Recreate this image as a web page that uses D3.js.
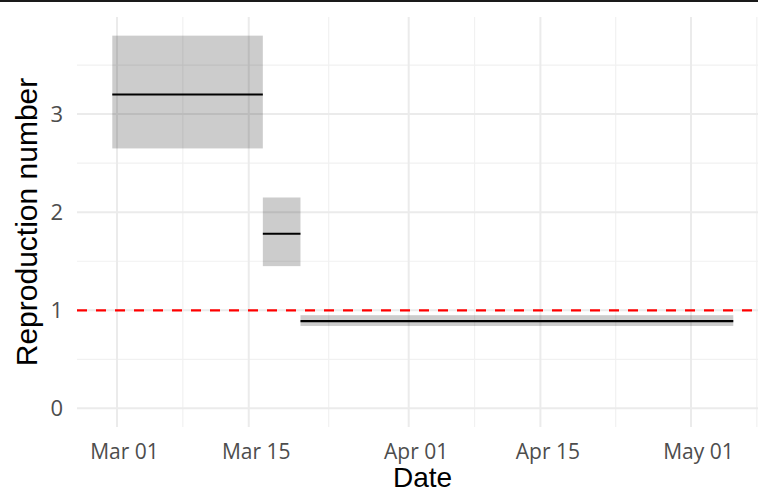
<!DOCTYPE html>
<html>
<head>
<meta charset="utf-8">
<script src="https://cdn.jsdelivr.net/npm/d3@7"></script>
<style>
  html, body { margin: 0; padding: 0; background: #fff; }
  svg { display: block; }
</style>
</head>
<body>
<div class="chart"></div>
<script>
// estimated reproduction number per period
const periodStart = ["2020-03-01", "2020-03-17", "2020-03-21"];
const periodEnd = ["2020-03-16", "2020-03-20", "2020-05-05"];
const rMean = [3.20, 1.78, 0.89];
const rLower = [2.65, 1.45, 0.84];
const rUpper = [3.80, 2.15, 0.95];
const threshold = 1;

const xTickDates = ["2020-03-01", "2020-03-15", "2020-04-01", "2020-04-15", "2020-05-01"];
const xTickLabels = ["Mar 01", "Mar 15", "Apr 01", "Apr 15", "May 01"];
const yTicks = [0, 1, 2, 3];

const width = 758;
const height = 494;
const margin = { top: 17, right: 0, bottom: 67, left: 77 };

const parse = d3.utcParse("%Y-%m-%d");
const halfDay = 12 * 3600 * 1000;

const periods = periodStart.map((s, i) => ({
    start: parse(s),
    end: parse(periodEnd[i]),
    mean: rMean[i],
    lower: rLower[i],
    upper: rUpper[i]
}));

const svg = d3.select(".chart")
    .append("svg")
    .attr("width", width)
    .attr("height", height);

const x = d3.scaleUtc()
    .domain([new Date(Date.UTC(2020, 1, 25, 18)), new Date(Date.UTC(2020, 4, 8, 3))])
    .range([margin.left, width - margin.right]);

const y = d3.scaleLinear()
    .domain([-0.19, 3.99])
    .range([height - margin.bottom, margin.top]);

// grid: minor lines sit midway between the major ones
const majorX = xTickDates.map(parse);
const nextMajor = parse("2020-05-15");
const minorX = majorX.map((d, i) => {
    const n = i < majorX.length - 1 ? majorX[i + 1] : nextMajor;
    return new Date((+d + +n) / 2);
});
const minorY = yTicks.map(v => v + 0.5);

const grid = svg.append("g").attr("class", "grid");

grid.selectAll(".minor-y")
    .data(minorY)
    .enter()
    .append("line")
    .attr("x1", x.range()[0])
    .attr("x2", x.range()[1])
    .attr("y1", d => y(d))
    .attr("y2", d => y(d))
    .attr("stroke", "#f1f1f1")
    .attr("stroke-width", 1.2);

grid.selectAll(".minor-x")
    .data(minorX)
    .enter()
    .append("line")
    .attr("x1", d => x(d))
    .attr("x2", d => x(d))
    .attr("y1", y.range()[0])
    .attr("y2", y.range()[1])
    .attr("stroke", "#f1f1f1")
    .attr("stroke-width", 1.2);

grid.selectAll(".major-y")
    .data(yTicks)
    .enter()
    .append("line")
    .attr("x1", x.range()[0])
    .attr("x2", x.range()[1])
    .attr("y1", d => y(d))
    .attr("y2", d => y(d))
    .attr("stroke", "#ebebeb")
    .attr("stroke-width", 2);

grid.selectAll(".major-x")
    .data(majorX)
    .enter()
    .append("line")
    .attr("x1", d => x(d))
    .attr("x2", d => x(d))
    .attr("y1", y.range()[0])
    .attr("y2", y.range()[1])
    .attr("stroke", "#ebebeb")
    .attr("stroke-width", 2);

// credible intervals
svg.selectAll(".ci")
    .data(periods)
    .enter()
    .append("rect")
    .attr("class", "ci")
    .attr("x", d => x(new Date(+d.start - halfDay)))
    .attr("width", d => x(new Date(+d.end + halfDay)) - x(new Date(+d.start - halfDay)))
    .attr("y", d => y(d.upper))
    .attr("height", d => y(d.lower) - y(d.upper))
    .attr("fill", "#000")
    .attr("fill-opacity", 0.2);

// mean R
svg.selectAll(".mean")
    .data(periods)
    .enter()
    .append("line")
    .attr("class", "mean")
    .attr("x1", d => x(new Date(+d.start - halfDay)))
    .attr("x2", d => x(new Date(+d.end + halfDay)))
    .attr("y1", d => y(d.mean))
    .attr("y2", d => y(d.mean))
    .attr("stroke", "#000")
    .attr("stroke-width", 2.2);

// R = 1
svg.append("line")
    .attr("x1", x.range()[0])
    .attr("x2", x.range()[1])
    .attr("y1", y(threshold))
    .attr("y2", y(threshold))
    .attr("stroke", "#ff0000")
    .attr("stroke-width", 2.2)
    .attr("stroke-dasharray", "10,9");

// axes (no domain lines or ticks, like theme_minimal)
const xAxis = svg.append("g")
    .attr("transform", `translate(7,${height - margin.bottom})`)
    .call(d3.axisBottom(x)
        .tickValues(majorX)
        .tickFormat((d, i) => xTickLabels[i])
        .tickSize(0)
        .tickPadding(0));
xAxis.select(".domain").remove();
xAxis.selectAll("text")
    .attr("y", 32)
    .attr("dy", 0)
    .attr("fill", "#4d4d4d")
    .style("font-family", "'Open Sans', sans-serif")
    .style("font-size", "21px");

const yAxis = svg.append("g")
    .attr("transform", `translate(${margin.left - 14},0)`)
    .call(d3.axisLeft(y)
        .tickValues(yTicks)
        .tickFormat(d3.format("d"))
        .tickSize(0)
        .tickPadding(0));
yAxis.select(".domain").remove();
yAxis.selectAll("text")
    .attr("fill", "#4d4d4d")
    .style("font-family", "'Open Sans', sans-serif")
    .style("font-size", "22px");

svg.append("text")
    .attr("x", (x.range()[0] + x.range()[1]) / 2 + 5)
    .attr("y", 487)
    .attr("text-anchor", "middle")
    .style("font-family", "'Liberation Sans', Arial, sans-serif")
    .style("font-size", "28px")
    .text("Date");

svg.append("text")
    .attr("transform", `translate(37,${(y.range()[0] + y.range()[1]) / 2}) rotate(-90)`)
    .attr("text-anchor", "middle")
    .style("font-family", "'Liberation Sans', Arial, sans-serif")
    .style("font-size", "30px")
    .text("Reproduction number");

// dark rule along the top edge of the picture
svg.append("line")
    .attr("x1", 0)
    .attr("x2", width)
    .attr("y1", 1)
    .attr("y2", 1)
    .attr("stroke", "#1a1a1a")
    .attr("stroke-width", 2);
</script>
</body>
</html>
